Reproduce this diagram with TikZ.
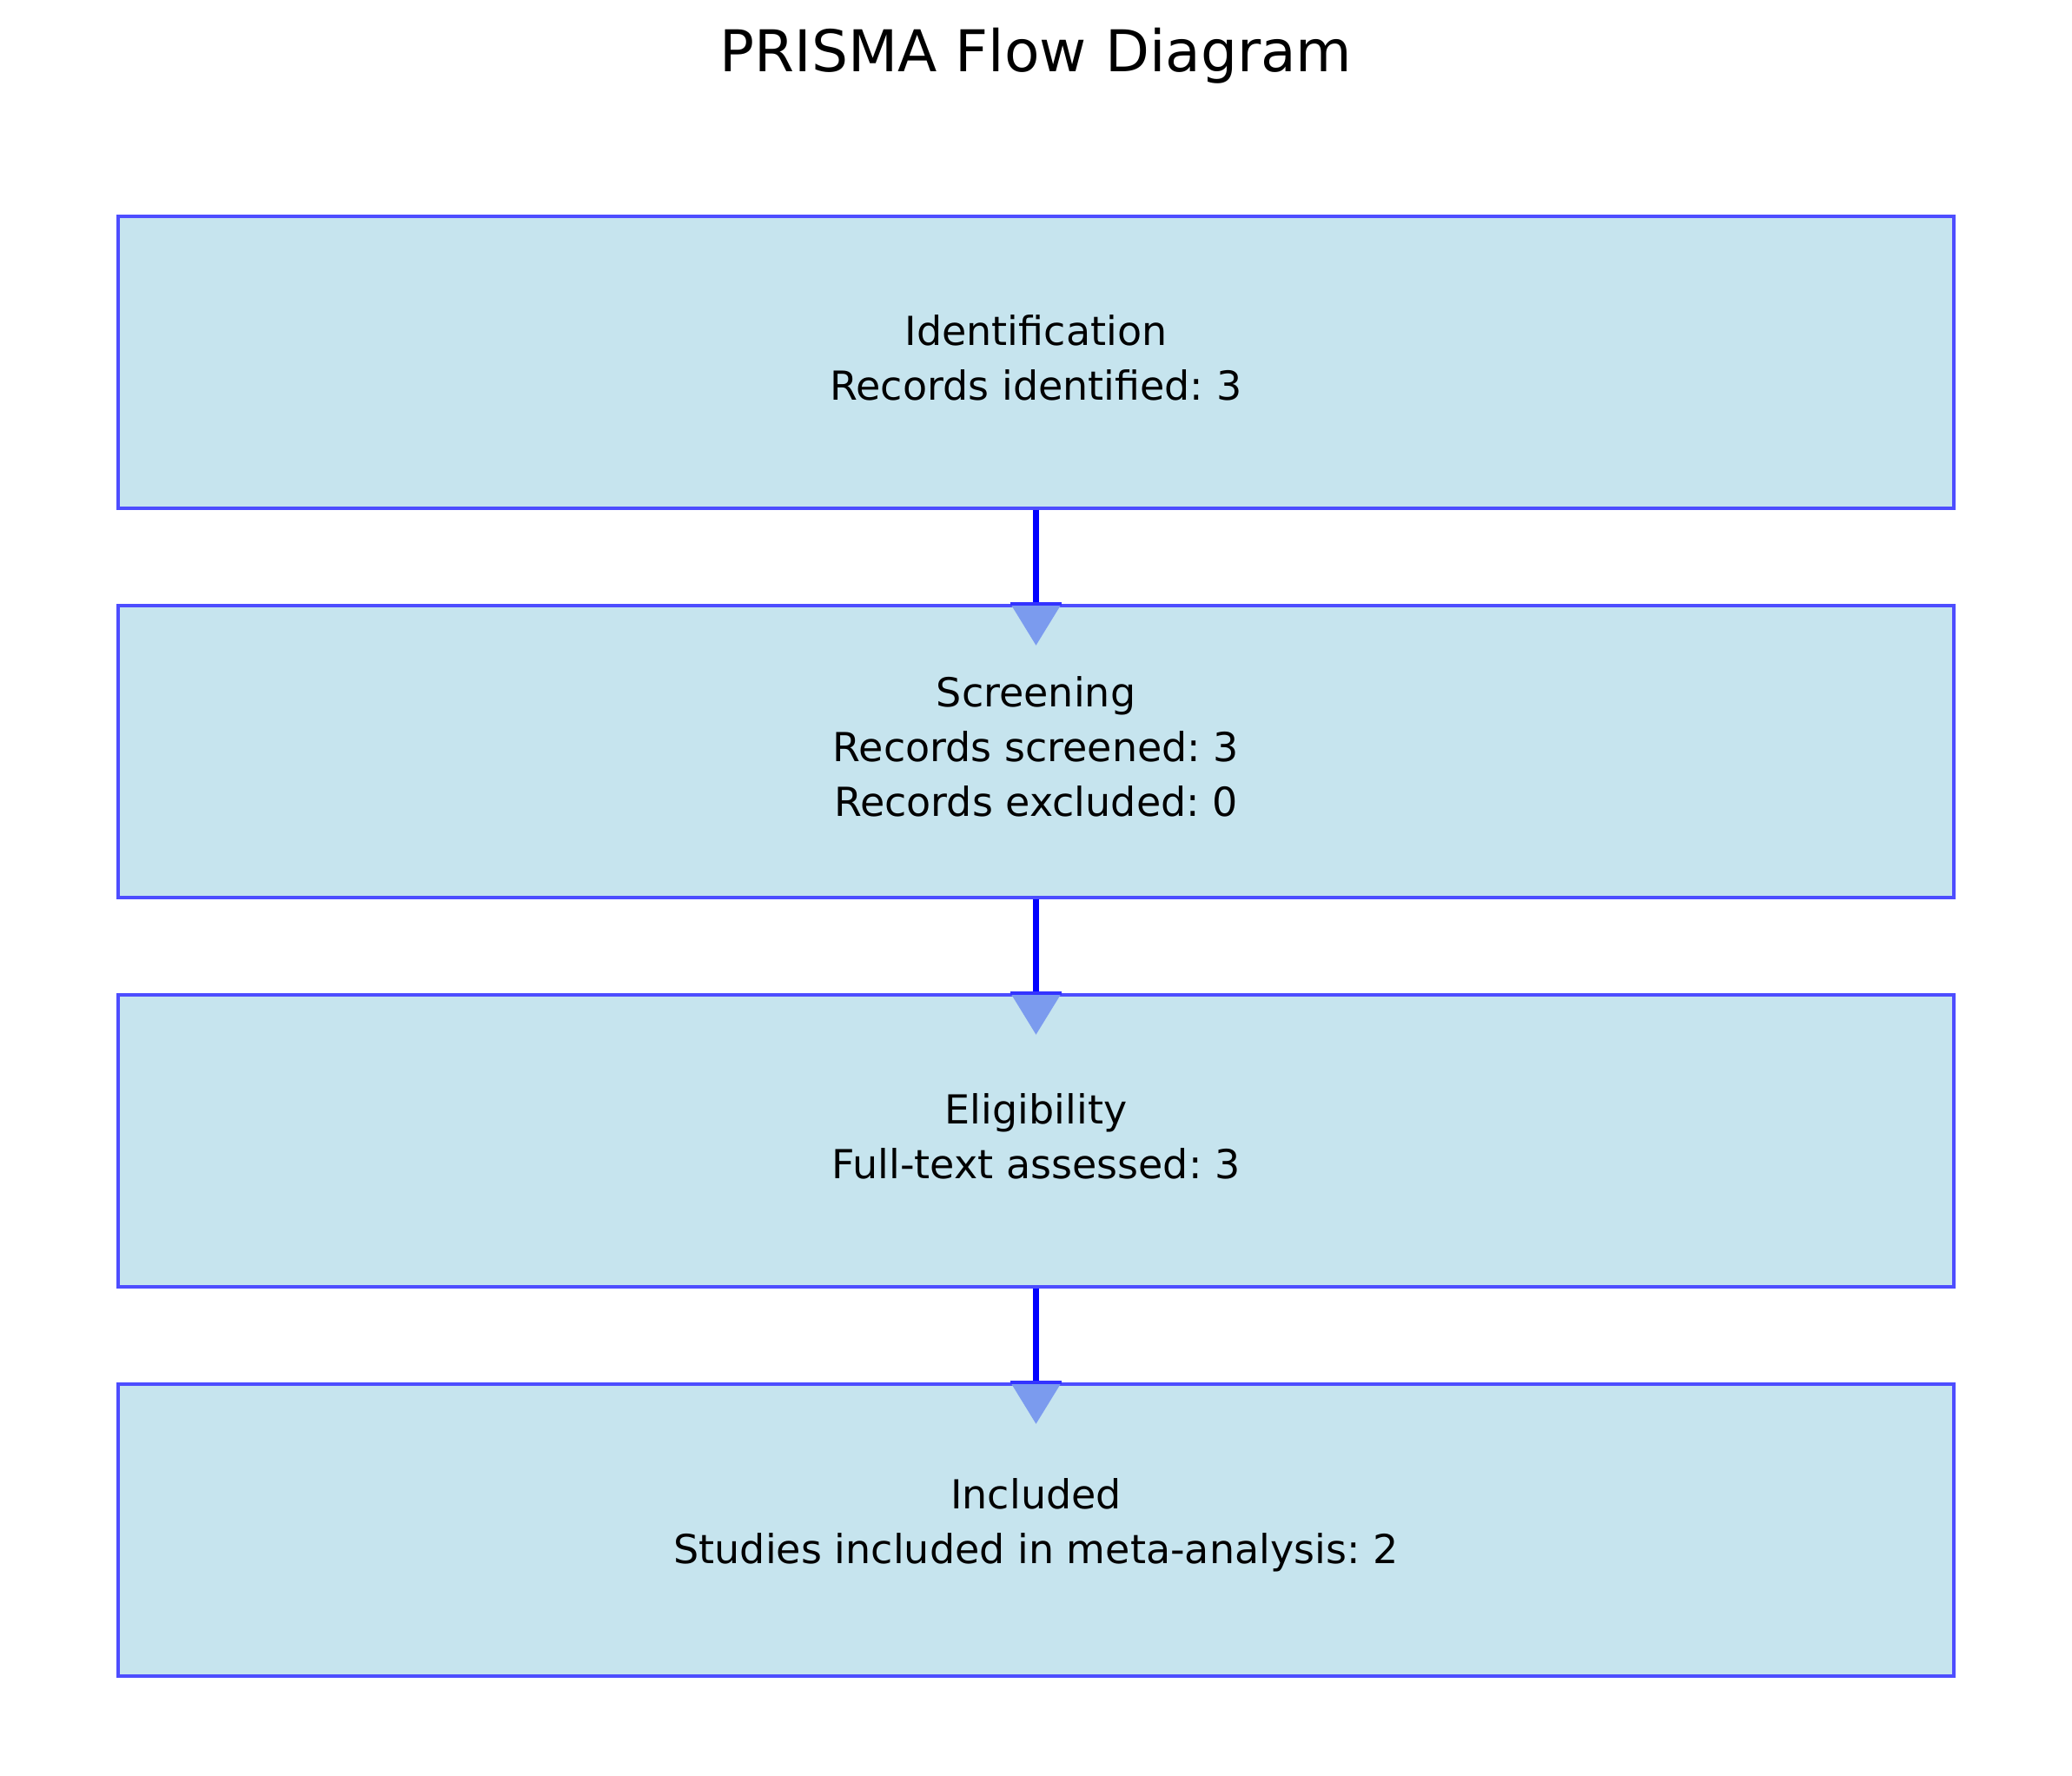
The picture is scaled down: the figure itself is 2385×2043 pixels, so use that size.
\documentclass[tikz,border=0pt]{standalone}
\usepackage{fontspec}
\setmainfont{DejaVu Sans}
\frenchspacing
\usetikzlibrary{calc}
\definecolor{boxfill}{RGB}{198,228,238}
\definecolor{boxedge}{RGB}{77,77,255}
\definecolor{headc}{RGB}{123,155,238}
\definecolor{shaftc}{RGB}{0,0,255}
\definecolor{basec}{RGB}{51,51,255}
\begin{document}
\begin{tikzpicture}[x=0.24pt,y=-0.24pt,
  stagebox/.style={draw=boxedge, fill=boxfill, line width=0.96pt, rectangle,
    minimum width=507.12pt, minimum height=80.64pt, inner sep=0pt},
  stagetext/.style={align=center, inner sep=0pt,
    font=\fontsize{11.04pt}{15.1pt}\selectfont},
  shaft/.style={draw=shaftc, line width=1.6pt},
  headfill/.style={fill=headc},
  headbase/.style={draw=basec, line width=0.96pt},
  titlestyle/.style={font=\fontsize{15.9pt}{19pt}\selectfont, inner sep=0pt, anchor=base}]
\useasboundingbox (0,0) rectangle (2385,2043);
\node[titlestyle] (title) at (1192.5,82) {PRISMA Flow Diagram};
\node[stagebox] (b1) at (1192.5,416.7) {};
\node[stagebox] (b2) at (1192.5,864.7) {};
\node[stagebox] (b3) at (1192.5,1312.7) {};
\node[stagebox] (b4) at (1192.5,1760.7) {};
\node[stagetext] (t1) at ([yshift=1.2pt]b1.center) {Identification\\Records identified: 3};
\node[stagetext] (t2) at ([yshift=1.2pt]b2.center) {Screening\\Records screened: 3\\Records excluded: 0};
\node[stagetext] (t3) at ([yshift=1.2pt]b3.center) {Eligibility\\Full-text assessed: 3};
\node[stagetext] (t4) at ([yshift=1.2pt]b4.center) {Included\\Studies included in meta-analysis: 2};
\foreach \a/\b in {b1/b2,b2/b3,b3/b4}{
  \draw[shaft] (\a.south) -- (\b.north);
  \fill[headfill] ($(\b.north)+(-29.5,0)$) -- ($(\b.north)+(29.5,0)$) -- ($(\b.north)+(0,48)$) -- cycle;
  \draw[headbase] ($(\b.north)+(-29.5,0)$) -- ($(\b.north)+(29.5,0)$);
}
\end{tikzpicture}
\end{document}
